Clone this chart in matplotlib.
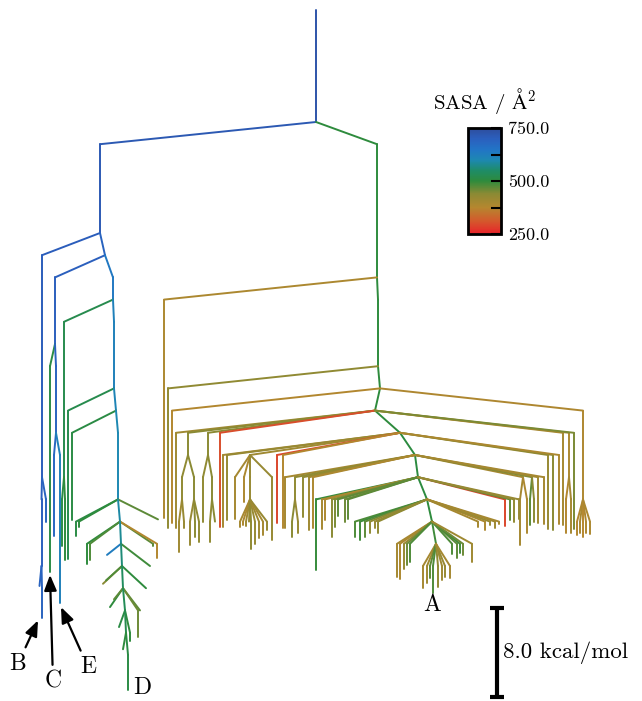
import matplotlib
matplotlib.use("Agg")
import matplotlib.pyplot as plt
import numpy as np
from matplotlib.collections import LineCollection
from matplotlib.colors import LinearSegmentedColormap, Normalize
from matplotlib.cm import ScalarMappable

plt.rcParams['font.family'] = ['cmr10', 'DejaVu Serif']
plt.rcParams['mathtext.fontset'] = 'cm'
plt.rcParams['axes.formatter.use_mathtext'] = True

LEVEL_STEP = 2.0      # kcal/mol between disconnectivity levels
ROOT_TOP = 10.1       # top of the root stem (kcal/mol)
SASA_MIN, SASA_MAX = 250.0, 750.0
SCALE_BAR_KCAL = 8.0

# Each node: (id, parent, x layout position, energy where its line ends (kcal/mol), SASA in A^2)
# id None = leaf (single minimum)
root_nodes = [
    ("root", None, 31.6, 0.0, 730),
]

left_nodes = [
    ("L1", "root", 10.0, -10, 715),
    ("B", "L1", 4.2, -32, 705),
    ("B1", "B", 4.15, -40, 700),
    (None, "B1", 4.2, -44.7, 690),
    (None, "B1", 3.95, -41.8, 690),
    (None, "B", 4.6, -36.0, 690),
    ("L2", "L1", 10.5, -12, 690),
    ("CE", "L2", 5.5, -20, 700),
    (None, "CE", 5.0, -40.5, 510),          # C
    ("CE2", "CE", 5.6, -28, 690),
    (None, "CE2", 5.4, -37.3, 680),
    (None, "CE2", 6.0, -43.3, 620),         # E
    ("L3", "L2", 11.3, -16, 640),
    ("G1", "L3", 6.4, -32, 520),
    (None, "G1", 6.2, -38.2, 510),
    (None, "G1", 6.5, -39.5, 500),
    ("L4", "L3", 11.4, -24, 620),
    (None, "L4", 6.8, -39.4, 520),
    ("L5", "L4", 11.6, -26, 610),
    (None, "L5", 7.2, -35.9, 510),
    ("L6", "L5", 11.8, -34, 600),
]

d_tree_nodes = [
    (None, "L6", 7.6, -37.3, 510),
    (None, "L6", 7.9, -36.5, 500),
    (None, "L6", 15.8, -35.8, 470),
    ("D2", "L6", 12.0, -36, 590),
    (None, "D2", 8.7, -39.8, 500),
    (None, "D2", 9.0, -39.5, 480),
    (None, "D2", 15.3, -38.2, 470),
    (None, "D2", 15.7, -39.3, 380),
    ("D3", "D2", 12.1, -38, 580),
    (None, "D3", 10.7, -39.0, 630),
    (None, "D3", 15.0, -40.0, 490),
    ("D4", "D3", 12.2, -40, 560),
    (None, "D4", 10.3, -41.6, 440),
    (None, "D4", 10.6, -41.3, 480),
    (None, "D4", 14.6, -42.0, 500),
    ("D5", "D4", 12.3, -42, 540),
    (None, "D5", 11.0, -43.7, 500),
    (None, "D5", 11.4, -43.0, 470),
    (None, "D5", 14.0, -44.0, 470),
    (None, "D5", 13.8, -46.4, 460),
    ("D6", "D5", 12.5, -44, 530),
    (None, "D6", 11.9, -45.5, 510),
    (None, "D6", 13.0, -46.8, 500),
    ("D7", "D6", 12.6, -46, 520),
    (None, "D7", 12.8, -51.2, 510),        # D
    (None, "D7", 12.3, -47.5, 500),
]

right_trunk_nodes = [
    ("R1", "root", 37.7, -14, 500),
    ("R2", "R1", 37.8, -22, 500),
    ("R3", "R2", 38.0, -24, 500),
    ("R4", "R3", 37.5, -26, 500),
    ("R5", "R4", 40.0, -28, 500),
    ("R6", "R5", 41.5, -30, 505),
    ("R7", "R6", 41.8, -32, 505),
    ("R8", "R7", 42.7, -34, 505),
    ("R9", "R8", 43.2, -36, 500),
    ("R10", "R9", 43.6, -38, 490),
]

right_left_nodes = [
    (None, "R1", 16.4, -35.7, 390),
    (None, "R2", 16.8, -36.6, 430),
    (None, "R3", 17.2, -36.1, 380),
    (None, "R4", 17.6, -36.6, 410),
    ("T1", "R4", 18.8, -30, 440),
    ("T1a", "T1", 18.2, -34, 430),
    (None, "T1a", 17.9, -38.7, 410),
    (None, "T1a", 18.4, -36.6, 420),
    ("T1b", "T1", 19.4, -34, 440),
    (None, "T1b", 19.0, -38.1, 420),
    (None, "T1b", 19.5, -37.4, 440),
    (None, "T1b", 19.9, -37.8, 430),
    ("T2", "R4", 20.8, -30, 440),
    (None, "T2", 20.3, -36.0, 430),
    ("T2b", "T2", 21.2, -34, 440),
    (None, "T2b", 21.0, -37.8, 430),
    (None, "T2b", 21.5, -36.0, 440),
    (None, "R4", 22.0, -36.5, 300),
    (None, "R5", 22.3, -36.5, 400),
    (None, "R5", 22.7, -35.9, 420),
    ("F1", "R5", 25.0, -30, 410),
    (None, "F1", 23.5, -35.8, 400),
    (None, "F1", 24.4, -34.2, 390),
    ("F1c", "F1", 25.0, -34, 420),
    (None, "F1", 27.2, -37.7, 420),
    (None, "R5", 27.7, -36.1, 290),
    (None, "R5", 28.3, -36.6, 380),
    (None, "R6", 28.5, -36.6, 400),
    ("T3", "R6", 29.5, -34, 430),
    (None, "T3", 29.2, -37.4, 440),
    (None, "T3", 29.8, -37.0, 420),
    (None, "R6", 30.3, -35.6, 430),
    (None, "R6", 30.9, -36.8, 410),
    (None, "R6", 31.3, -36.6, 390),
    (None, "R7", 31.6, -40.4, 495),
    (None, "R7", 32.2, -36.7, 400),
    (None, "R7", 32.5, -35.9, 390),
    (None, "R7", 33.2, -37.4, 440),
    (None, "R7", 33.5, -36.5, 450),
    (None, "R7", 33.8, -35.5, 470),
    (None, "R7", 34.5, -36.0, 460),
    (None, "R7", 34.8, -35.8, 470),
    (None, "R8", 35.5, -37.4, 480),
    (None, "R8", 36.0, -37.7, 490),
    (None, "R8", 36.5, -37.4, 470),
    (None, "R8", 37.0, -37.0, 430),
    (None, "R8", 37.5, -36.6, 420),
    (None, "R8", 37.8, -37.0, 430),
    (None, "R9", 39.7, -41.0, 400),
    (None, "R9", 40.0, -41.2, 390),
    (None, "R9", 40.4, -40.3, 420),
    (None, "R9", 40.7, -39.9, 460),
    (None, "R9", 41.0, -39.6, 480),
]

fan_nodes = [
    (None, "F1c", 24.0, -36.5, 400),
    (None, "F1c", 24.3, -36.3, 390),
    (None, "F1c", 24.6, -36.4, 410),
    (None, "F1c", 24.9, -36.0, 420),
    (None, "F1c", 25.1, -38.5, 430),
    (None, "F1c", 25.5, -38.0, 420),
    (None, "F1c", 25.9, -37.5, 410),
    (None, "F1c", 26.3, -37.2, 400),
    (None, "F1c", 26.7, -36.8, 420),
    (None, "R10", 42.3, -42.0, 400),
    (None, "R10", 42.7, -41.5, 410),
    (None, "R10", 43.0, -41.1, 470),
    (None, "R10", 43.3, -42.4, 480),
    (None, "R10", 43.8, -41.9, 430),
    (None, "R10", 44.2, -41.3, 410),
    (None, "R10", 44.5, -41.0, 420),
    (None, "R10", 45.0, -41.1, 400),
]

right_right_nodes = [
    ("RR1", "R3", 58.3, -34, 385),
    (None, "RR1", 57.7, -37.2, 380),
    (None, "RR1", 58.0, -37.0, 395),
    (None, "RR1", 58.3, -37.4, 375),
    (None, "RR1", 58.6, -37.0, 385),
    (None, "RR1", 59.0, -37.1, 390),
    (None, "R4", 56.3, -36.3, 400),
    ("RR2", "R4", 56.9, -32, 390),
    (None, "RR2", 56.6, -37.0, 380),
    (None, "RR2", 57.1, -37.0, 400),
    (None, "R4", 57.4, -36.7, 450),
    (None, "R5", 54.8, -36.7, 420),
    (None, "R5", 55.3, -36.8, 440),
    (None, "R5", 55.9, -36.2, 390),
    ("T4", "R6", 52.3, -32, 400),
    (None, "T4", 52.0, -38.1, 400),
    (None, "T4", 52.7, -37.0, 390),
    ("T5", "R6", 53.2, -32, 450),
    (None, "T5", 53.0, -36.3, 470),
    (None, "T5", 53.4, -36.0, 440),
    (None, "R6", 53.8, -36.1, 410),
    (None, "R6", 54.4, -36.2, 400),
    (None, "R7", 50.5, -36.4, 290),
    (None, "R7", 51.0, -35.9, 470),
    (None, "R7", 51.4, -36.0, 430),
    (None, "R7", 51.9, -35.8, 420),
    (None, "R8", 47.8, -36.5, 400),
    (None, "R8", 48.5, -36.8, 390),
    (None, "R8", 49.0, -36.3, 420),
    (None, "R8", 49.5, -36.6, 410),
    (None, "R8", 49.9, -36.2, 400),
    (None, "R9", 45.2, -38.9, 480),
    (None, "R9", 45.7, -39.3, 470),
    (None, "R9", 46.0, -38.8, 490),
    (None, "R9", 46.3, -39.0, 460),
    (None, "R9", 47.2, -39.6, 410),
]

# labelled minima: (label, text x, text E, arrow target x, arrow target E)
minima_labels = [
    ("B", 1.8, -48.8, 3.8, -44.9),
    ("C", 5.3, -50.4, 5.0, -40.8),
    ("E", 8.8, -49.1, 6.1, -43.7),
]
plain_labels = [
    ("A", 43.2, -43.5),
    ("D", 14.2, -51.0),
]

colorbar_ticks = [250, 375, 500, 625, 750]
colorbar_ticklabels = ["250.0", "", "500.0", "", "750.0"]

# ---------------------------------------------------------------
cmap = LinearSegmentedColormap.from_list("sasa", [
    (0.00, "#e8232b"),
    (0.12, "#d4582c"),
    (0.25, "#b5872f"),
    (0.38, "#8a8a34"),
    (0.50, "#2e8b3c"),
    (0.60, "#1e8c68"),
    (0.70, "#1d88b2"),
    (0.80, "#2274c6"),
    (0.90, "#2b5fbe"),
    (1.00, "#2e4d9c"),
])
norm = Normalize(SASA_MIN, SASA_MAX)

all_nodes = (root_nodes + left_nodes + d_tree_nodes + right_trunk_nodes +
             right_left_nodes + fan_nodes + right_right_nodes)
pos = {}
for nid, parent, x, e, s in all_nodes:
    if nid is not None:
        pos[nid] = (x, e)

segs, vals = [], []
rx, re_ = pos["root"]
segs.append([(rx, ROOT_TOP), (rx, re_)])
vals.append(root_nodes[0][4])
for nid, parent, x, e, s in all_nodes:
    if parent is None:
        continue
    px, pe = pos[parent]
    ye = max(pe - LEVEL_STEP, e)
    segs.append([(px, pe), (x, ye)])
    vals.append(s)
    if e < ye:
        segs.append([(x, ye), (x, e)])
        vals.append(s)

W, H = 642, 701
fig = plt.figure(figsize=(W / 100, H / 100), dpi=100)
ax = fig.add_axes([0, 0, 1, 1])
ax.set_xlim(0, 64.2)
ax.set_ylim((122 - 701) / 11.1, 122 / 11.1)
ax.axis("off")

lc = LineCollection(segs, cmap=cmap, norm=norm, linewidths=1.4,
                    capstyle="round", joinstyle="round")
lc.set_array(np.array(vals, dtype=float))
ax.add_collection(lc)

# labels
for lab, tx, te, ax_, ae in minima_labels:
    ax.annotate(lab, xy=(ax_, ae), xytext=(tx, te), ha="center", va="center",
                fontsize=17,
                arrowprops=dict(arrowstyle="-|>,head_length=0.55,head_width=0.22",
                                color="black", lw=1.6, shrinkA=2, shrinkB=0))
for lab, tx, te in plain_labels:
    ax.text(tx, te, lab, ha="center", va="center", fontsize=17)

# scale bar
sb_x, sb_top = 49.7, -43.8
ax.plot([sb_x, sb_x], [sb_top, sb_top - SCALE_BAR_KCAL], color="black", lw=3,
        solid_capstyle="butt")
for yy in (sb_top, sb_top - SCALE_BAR_KCAL):
    ax.plot([sb_x - 0.7, sb_x + 0.7], [yy, yy], color="black", lw=3,
            solid_capstyle="butt")
ax.text(sb_x + 0.6, sb_top - SCALE_BAR_KCAL / 2, "%.1f kcal/mol" % SCALE_BAR_KCAL,
        ha="left", va="center", fontsize=16.5)

# colorbar
cax = fig.add_axes([468 / W, 1 - 234 / H, 33 / W, 106 / H])
cb = fig.colorbar(ScalarMappable(norm=norm, cmap=cmap), cax=cax)
cb.set_ticks(colorbar_ticks)
cb.set_ticklabels(colorbar_ticklabels)
cb.ax.tick_params(direction="in", length=7, width=1.5, labelsize=13, pad=5,
                  right=True, left=False)
cb.outline.set_linewidth(2)
fig.text(485 / W, 1 - 101 / H, r"SASA / $\mathrm{\AA}^2$", ha="center",
         va="center", fontsize=15)

fig.savefig("out.png", dpi=100)
